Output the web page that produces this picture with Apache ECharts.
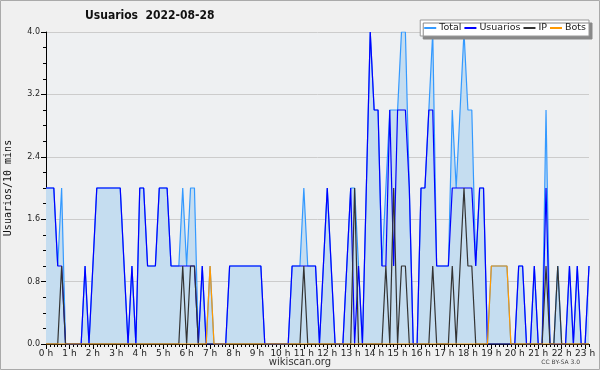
<!DOCTYPE html>
<html>
<head>
<meta charset="utf-8">
<script src="https://cdn.jsdelivr.net/npm/echarts@6/dist/echarts.min.js"></script>
<style>
html,body{margin:0;padding:0;background:#f0f0f0;}
#c{width:600px;height:370px;}
</style>
</head>
<body>
<div id="c"></div>
<script>
// 10-minute slots from 0:00 to 23:10
var slots = [];
for (var k = 0; k < 140; k++) { slots.push(k); }
var hourLabels = ['0 h','1 h','2 h','3 h','4 h','5 h','6 h','7 h','8 h','9 h','10 h','11 h','12 h','13 h','14 h','15 h','16 h','17 h','18 h','19 h','20 h','21 h','22 h','23 h'];

var total = [
 2,2,2,1,2,0,0,0,0,0,
 1,0,1,2,2,2,2,2,2,2,
 1,0,1,0,2,2,1,1,1,2,
 2,2,1,1,1,2,1,2,2,0,
 1,0,1,0,0,0,0,1,1,1,
 1,1,1,1,1,1,0,0,0,0,
 0,0,0,1,1,1,2,1,1,1,
 0,1,2,1,0,0,0,1,2,2,
 1,0,2,4,3,3,1,2,3,3,
 3,4,4,2,0,0,2,2,3,4,
 1,1,1,1,3,2,3,4,3,3,
 1,2,2,0,1,1,1,1,1,0,
 0,1,1,0,0,1,0,0,3,0,
 0,1,0,0,1,0,1,0,0,1
];
var usuarios = [
 2,2,2,1,1,0,0,0,0,0,
 1,0,1,2,2,2,2,2,2,2,
 1,0,1,0,2,2,1,1,1,2,
 2,2,1,1,1,1,1,1,1,0,
 1,0,0,0,0,0,0,1,1,1,
 1,1,1,1,1,1,0,0,0,0,
 0,0,0,1,1,1,1,1,1,1,
 0,1,2,1,0,0,0,1,2,0,
 1,0,2,4,3,3,1,1,3,1,
 3,3,3,2,0,0,2,2,3,3,
 1,1,1,1,2,2,2,2,2,2,
 1,2,2,0,0,0,0,0,0,0,
 0,1,1,0,0,1,0,0,2,0,
 0,0,0,0,1,0,1,0,0,1
];
var ip = [
 0,0,0,0,1,0,0,0,0,0,
 0,0,0,0,0,0,0,0,0,0,
 0,0,0,0,0,0,0,0,0,0,
 0,0,0,0,0,1,0,1,1,0,
 0,0,0,0,0,0,0,0,0,0,
 0,0,0,0,0,0,0,0,0,0,
 0,0,0,0,0,0,1,0,0,0,
 0,0,0,0,0,0,0,0,0,2,
 0,0,0,0,0,0,0,1,0,2,
 0,1,1,0,0,0,0,0,0,1,
 0,0,0,0,1,0,1,2,1,1,
 0,0,0,0,0,0,0,0,0,0,
 0,0,0,0,0,0,0,0,1,0,
 0,1,0,0,0,0,0,0,0,0
];
var bots = [
 0,0,0,0,0,0,0,0,0,0,
 0,0,0,0,0,0,0,0,0,0,
 0,0,0,0,0,0,0,0,0,0,
 0,0,0,0,0,0,0,0,0,0,
 0,0,1,0,0,0,0,0,0,0,
 0,0,0,0,0,0,0,0,0,0,
 0,0,0,0,0,0,0,0,0,0,
 0,0,0,0,0,0,0,0,0,0,
 0,0,0,0,0,0,0,0,0,0,
 0,0,0,0,0,0,0,0,0,0,
 0,0,0,0,0,0,0,0,0,0,
 0,0,0,0,1,1,1,1,1,0,
 0,0,0,0,0,0,0,0,0,0,
 0,0,0,0,0,0,0,0,0,0
];
var yTicks = [0, 0.8, 1.6, 2.4, 3.2, 4.0];

var chart = echarts.init(document.getElementById('c'), null, {renderer:'canvas'});
var F = 'DejaVu Sans';
function lbl(v, i){ return (i % 6 === 0) ? hourLabels[i/6] : ''; }
chart.setOption({
  backgroundColor: '#f0f0f0',
  animation: false,
  title: {
    text: 'Usuarios  2022-08-28',
    left: 80, top: 5,
    textStyle: {fontFamily: 'DejaVu Sans Condensed', fontSize: 12, fontWeight: 'bold', color: '#111'}
  },
  legend: {
    right: 11, top: 20,
    orient: 'horizontal',
    backgroundColor: '#ffffff',
    borderColor: '#999', borderWidth: 1,
    shadowColor: '#888', shadowBlur: 0.1, shadowOffsetX: 3, shadowOffsetY: 3,
    padding: [3, 3, 3, 4],
    itemGap: 3, itemWidth: 12, itemHeight: 2,
    icon: 'rect',
    textStyle: {fontFamily: F, fontSize: 9.5, color: '#222', padding: [0,0,0,-2]},
    data: ['Total','Usuarios','IP','Bots']
  },
  grid: {left: 46, right: 11, top: 32, bottom: 26, outerBoundsMode: 'none', containLabel: false,
         show: true, backgroundColor: '#eef0f2', borderWidth: 0},
  xAxis: [{
    type: 'category', data: slots, boundaryGap: false,
    axisLine: {lineStyle: {color: '#000', width: 1}},
    axisTick: {show: true, interval: 0, length: 3, lineStyle: {color: '#000'}},
    axisLabel: {interval: 0, formatter: lbl, fontFamily: F, fontSize: 9, color: '#222', margin: 5},
    splitLine: {show: false}
  }, {
    type: 'category', data: slots, boundaryGap: false, position: 'bottom',
    axisLine: {show: false},
    axisTick: {show: true, interval: 5, length: 5, lineStyle: {color: '#000'}},
    axisLabel: {show: false},
    splitLine: {show: false}
  }],
  yAxis: {
    type: 'value', min: 0, max: 4, interval: 0.8,
    name: 'Usuarios/10 mins', nameLocation: 'middle', nameGap: 33, nameRotate: 90,
    nameTextStyle: {fontFamily: 'DejaVu Sans Mono', fontSize: 10, color: '#111'},
    axisLine: {show: true, lineStyle: {color: '#000'}},
    axisTick: {show: true, length: 5, lineStyle: {color: '#000'}},
    minorTick: {show: true, splitNumber: 4, length: 3, lineStyle: {color: '#000'}},
    axisLabel: {formatter: function(v){ return v.toFixed(1); }, fontFamily: F, fontSize: 8, color: '#222', margin: 6},
    splitLine: {show: true, lineStyle: {color: '#cccccc', width: 1}}
  },
  graphic: [
    {type: 'rect', shape: {x: 0.5, y: 0.5, width: 599, height: 369}, style: {fill: 'none', stroke: '#aaaaaa', lineWidth: 1}, z: 100},
    {type: 'text', left: 'center', top: 357, style: {text: 'wikiscan.org', font: '10px DejaVu Sans', fill: '#333'}},
    {type: 'text', right: 20, top: 359, style: {text: 'CC BY-SA 3.0', font: '6px DejaVu Sans', fill: '#444'}}
  ],
  series: [
    {name: 'Total', type: 'line', data: total, symbol: 'none', lineStyle: {color: '#3399ff', width: 1.2},
     itemStyle: {color: '#3399ff'}, areaStyle: {color: '#c5ddf0', opacity: 1}, z: 2},
    {name: 'Usuarios', type: 'line', data: usuarios, symbol: 'none', lineStyle: {color: '#0000ff', width: 1.2},
     itemStyle: {color: '#0000ff'}, z: 3},
    {name: 'IP', type: 'line', data: ip, symbol: 'none', lineStyle: {color: '#333333', width: 1.2},
     itemStyle: {color: '#333333'}, z: 4},
    {name: 'Bots', type: 'line', data: bots, symbol: 'none', lineStyle: {color: '#ff9900', width: 1.2},
     itemStyle: {color: '#ff9900'}, z: 5}
  ]
});
</script>
</body>
</html>
